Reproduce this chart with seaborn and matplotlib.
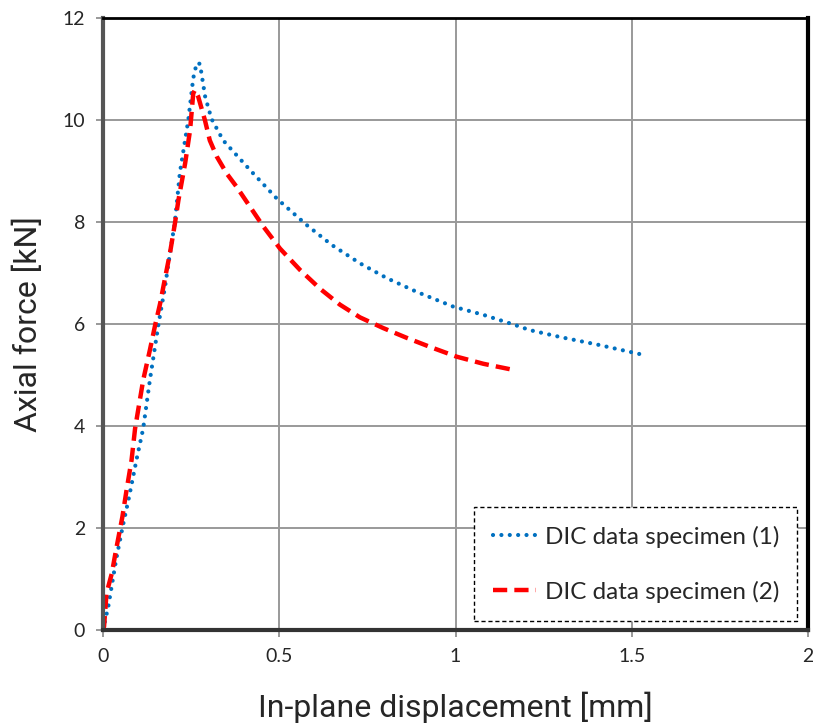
import numpy as np
import pandas as pd
import matplotlib
matplotlib.use("Agg")
import matplotlib.pyplot as plt
import seaborn as sns
from matplotlib.lines import Line2D

# Specimen (1) - blue dotted
x1 = [0.0, 0.015, 0.037, 0.055, 0.074, 0.096, 0.114, 0.133, 0.157, 0.176, 0.19, 0.204, 0.218, 0.242,
      0.256, 0.266, 0.275, 0.29, 0.308, 0.341, 0.417, 0.493, 0.578, 0.649, 0.729, 0.805, 0.89, 0.994,
      1.079, 1.169, 1.211, 1.3, 1.4, 1.523]
y1 = [0.0, 0.46, 1.37, 2.0, 2.61, 3.37, 3.95, 4.9, 5.98, 6.73, 7.39, 8.0, 8.96, 10.0,
      10.82, 11.12, 11.1, 10.45, 10.02, 9.6, 9.02, 8.46, 7.94, 7.55, 7.19, 6.9, 6.63, 6.34,
      6.18, 5.98, 5.88, 5.74, 5.6, 5.41]

# Specimen (2) - red dashed
x2 = [0.0, 0.003, 0.01, 0.025, 0.037, 0.055, 0.067, 0.081, 0.091, 0.114, 0.133, 0.148, 0.162, 0.176,
      0.19, 0.204, 0.214, 0.233, 0.247, 0.256, 0.261, 0.27, 0.289, 0.303, 0.323, 0.351, 0.379, 0.417,
      0.455, 0.502, 0.559, 0.616, 0.672, 0.729, 0.795, 0.861, 0.928, 1.003, 1.079, 1.164]
y2 = [0.0, 0.07, 0.72, 1.11, 1.57, 2.22, 2.75, 3.33, 3.95, 4.9, 5.49, 5.98, 6.4, 6.9,
      7.39, 7.97, 8.43, 9.15, 9.8, 10.52, 10.59, 10.46, 10.0, 9.6, 9.28, 8.95, 8.69, 8.3,
      7.91, 7.48, 7.06, 6.69, 6.38, 6.13, 5.92, 5.73, 5.55, 5.36, 5.22, 5.1]

labels = ["DIC data specimen (1)", "DIC data specimen (2)"]
xticks = [0, 0.5, 1, 1.5, 2]
xticklabels = ["0", "0.5", "1", "1.5", "2"]
yticks = [0, 2, 4, 6, 8, 10, 12]

df = pd.concat([
    pd.DataFrame({"x": x1, "y": y1, "s": labels[0]}),
    pd.DataFrame({"x": x2, "y": y2, "s": labels[1]}),
], ignore_index=True)

sns.set_style("white")
plt.rcParams["font.family"] = ["Lato", "DejaVu Sans"]

fig = plt.figure(figsize=(8.13, 7.25), dpi=100)
ax = fig.add_axes([103/813, 95/725, 705/813, 612/725])

sns.lineplot(data=df, x="x", y="y", hue="s", sort=False, estimator=None,
             palette=["#0070C0", "#FF0000"], linewidth=3, ax=ax, legend=False)

lines = ax.get_lines()
lines[0].set_linestyle((0, (0.01, 2.0)))
lines[0].set_dash_capstyle("round")
lines[0].set_linewidth(3.0)
lines[1].set_linestyle((0, (3.2, 1.6)))
lines[1].set_linewidth(3.2)

ax.set_xlim(0, 2)
ax.set_ylim(0, 12)
ax.set_xticks(xticks)
ax.set_xticklabels(xticklabels)
ax.set_yticks(yticks)
ax.grid(True, color="#999999", linewidth=1.4)
ax.set_axisbelow(True)
ax.tick_params(axis="both", direction="out", length=5, width=1.2, color="#888888",
               labelsize=14, pad=8, bottom=True, left=True)

for side, lw, c in [("left", 3, "#555555"), ("bottom", 3, "#333333"),
                    ("top", 2, "#000000"), ("right", 3, "#000000")]:
    ax.spines[side].set_visible(True)
    ax.spines[side].set_linewidth(lw)
    ax.spines[side].set_color(c)

ax.set_xlabel("In-plane displacement [mm]", fontsize=23,
              family=["Roboto", "DejaVu Sans"], labelpad=19)
ax.set_ylabel("Axial force [kN]", fontsize=23,
              family=["Roboto", "DejaVu Sans"], labelpad=14)

h1 = Line2D([], [], color="#0070C0", linewidth=3, linestyle=(0, (0.01, 2.0)), dash_capstyle="round")
h2 = Line2D([], [], color="#FF0000", linewidth=3.2, linestyle=(0, (3.2, 1.6)))
leg = ax.legend([h1, h2], labels, loc="lower right", bbox_to_anchor=(0.985, 0.015),
                fontsize=17.5, frameon=True, fancybox=False, handlelength=1.8,
                labelspacing=1.35, borderpad=0.75, handletextpad=0.35, borderaxespad=0)
fr = leg.get_frame()
fr.set_edgecolor("black")
fr.set_linestyle((0, (3, 2)))
fr.set_linewidth(1.0)
fr.set_facecolor("white")
fr.set_alpha(1)

fig.savefig("out.png", dpi=100)
